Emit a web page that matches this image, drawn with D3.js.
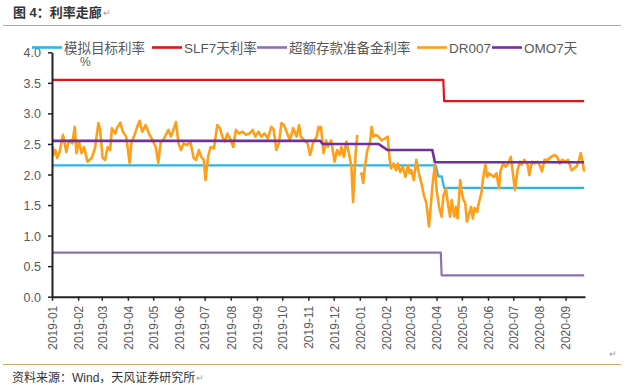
<!DOCTYPE html>
<html><head><meta charset="utf-8">
<script src="https://cdn.jsdelivr.net/npm/d3@7"></script>
<style>
html,body{margin:0;padding:0;background:#fff;}
svg{display:block;}
text{font-family:"Liberation Sans","Noto Sans CJK SC",sans-serif;}
</style></head>
<body><svg id="c" width="639" height="385"></svg>
<script>
const seriesNames = ["模拟目标利率","SLF7天利率","超额存款准备金利率","DR007","OMO7天"];
const seriesColors = ["#2CB5E8","#E3141B","#8B72B0","#FF9E18","#7030A0"];
const yTicks = [0,0.5,1,1.5,2,2.5,3,3.5,4];

const targetDates = ["2019-01-02","2020-03-31","2020-04-03","2020-04-07","2020-04-10","2020-09-23"];
const targetValues = [2.15,2.15,1.97,1.97,1.78,1.78];
const slfDates = ["2019-01-02","2020-04-09","2020-04-10","2020-09-23"];
const slfValues = [3.55,3.55,3.20,3.20];
const excessDates = ["2019-01-02","2020-04-06","2020-04-07","2020-09-23"];
const excessValues = [0.72,0.72,0.35,0.35];
const omoDates = ["2019-01-02","2019-11-15","2019-11-18","2020-01-23","2020-02-03","2020-03-27","2020-03-30","2020-09-23"];
const omoValues = [2.55,2.55,2.50,2.50,2.40,2.40,2.20,2.20];

const dr007Dates = [
"2019-01-02","2019-01-03","2019-01-05","2019-01-07","2019-01-10","2019-01-14","2019-01-18","2019-01-20","2019-01-23","2019-01-25","2019-01-28","2019-01-30",
"2019-02-02","2019-02-05","2019-02-08","2019-02-12","2019-02-17","2019-02-21","2019-02-25","2019-02-27",
"2019-03-02","2019-03-05","2019-03-08","2019-03-11","2019-03-13","2019-03-17","2019-03-19","2019-03-23","2019-03-26","2019-03-30",
"2019-04-03","2019-04-05","2019-04-09","2019-04-12","2019-04-15","2019-04-18","2019-04-22","2019-04-26",
"2019-05-01","2019-05-04","2019-05-07","2019-05-10","2019-05-13","2019-05-16","2019-05-19","2019-05-22","2019-05-25","2019-05-28","2019-05-31",
"2019-06-03","2019-06-06","2019-06-10","2019-06-14","2019-06-18","2019-06-21","2019-06-24","2019-06-27","2019-06-30",
"2019-07-02","2019-07-05","2019-07-08","2019-07-12","2019-07-16","2019-07-19","2019-07-22","2019-07-25","2019-07-28","2019-07-31",
"2019-08-04","2019-08-07","2019-08-11","2019-08-15","2019-08-19","2019-08-23","2019-08-27","2019-08-30",
"2019-09-03","2019-09-06","2019-09-10","2019-09-14","2019-09-18","2019-09-21","2019-09-24","2019-09-27","2019-09-30",
"2019-10-03","2019-10-07","2019-10-10","2019-10-14","2019-10-18","2019-10-21","2019-10-23","2019-10-27","2019-10-31",
"2019-11-03","2019-11-07","2019-11-11","2019-11-13","2019-11-14","2019-11-16","2019-11-19","2019-11-22","2019-11-24","2019-11-28",
"2019-12-02","2019-12-05","2019-12-08","2019-12-10","2019-12-13","2019-12-16","2019-12-19","2019-12-22","2019-12-24","2019-12-27","2019-12-29","2019-12-31",
"2020-01-02","2020-01-03","2020-01-05","2020-01-07","2020-01-10","2020-01-13","2020-01-15","2020-01-17","2020-01-20","2020-01-23","2020-01-27","2020-01-31",
"2020-02-03","2020-02-05","2020-02-07","2020-02-10","2020-02-13","2020-02-15","2020-02-18","2020-02-21","2020-02-24","2020-02-27","2020-02-29",
"2020-03-02","2020-03-05","2020-03-08","2020-03-11","2020-03-14","2020-03-17","2020-03-20","2020-03-23","2020-03-25","2020-03-27","2020-03-30",
"2020-04-01","2020-04-04","2020-04-07","2020-04-09","2020-04-12","2020-04-15","2020-04-17","2020-04-19","2020-04-22","2020-04-24","2020-04-26","2020-04-29",
"2020-05-01","2020-05-03","2020-05-05","2020-05-07","2020-05-10","2020-05-12","2020-05-14","2020-05-16","2020-05-19","2020-05-21","2020-05-24","2020-05-27","2020-05-29","2020-05-31",
"2020-06-02","2020-06-05","2020-06-08","2020-06-11","2020-06-14","2020-06-16","2020-06-19","2020-06-22","2020-06-25","2020-06-28",
"2020-07-01","2020-07-03","2020-07-06","2020-07-09","2020-07-11","2020-07-14","2020-07-18","2020-07-20","2020-07-23","2020-07-26","2020-07-30",
"2020-08-02","2020-08-04","2020-08-07","2020-08-11","2020-08-15","2020-08-19","2020-08-22","2020-08-25","2020-08-28","2020-08-31",
"2020-09-04","2020-09-08","2020-09-11","2020-09-14","2020-09-17","2020-09-19","2020-09-21","2020-09-23"];
const dr007Values = [
2.45,2.32,2.40,2.27,2.37,2.65,2.37,2.51,2.56,2.51,2.78,2.35,
2.54,2.35,2.45,2.21,2.27,2.43,2.84,2.73,
2.27,2.24,2.45,2.40,2.76,2.67,2.76,2.85,2.70,2.62,
2.19,2.51,2.65,2.78,2.88,2.70,2.81,2.67,
2.54,2.45,2.19,2.54,2.56,2.65,2.73,2.62,2.73,2.86,2.51,
2.40,2.51,2.48,2.54,2.27,2.24,2.40,2.29,2.24,
1.91,2.29,2.45,2.43,2.81,2.76,2.62,2.54,2.67,2.59,
2.45,2.73,2.67,2.70,2.65,2.67,2.73,2.62,
2.70,2.62,2.67,2.59,2.78,2.73,2.40,2.51,2.84,
2.81,2.67,2.56,2.76,2.62,2.81,2.62,2.56,2.51,
2.32,2.54,2.62,2.78,2.73,2.78,2.35,2.56,2.45,2.56,
2.21,2.40,2.32,2.45,2.29,2.54,2.35,2.13,1.55,2.35,2.65,null,
1.99,2.02,1.86,2.13,2.40,2.51,2.78,2.62,2.65,2.62,2.56,2.59,
2.62,2.29,2.10,2.18,2.07,2.18,2.04,2.13,1.96,2.15,2.02,
2.07,1.91,2.24,2.02,1.86,1.66,1.53,1.15,1.47,1.80,2.16,
1.75,1.47,1.31,1.64,1.77,1.47,1.31,1.58,1.31,1.47,1.28,1.91,
1.69,1.58,1.53,1.23,1.37,1.47,1.28,1.45,1.39,1.53,1.69,2.02,2.16,1.96,
2.02,1.99,1.96,2.02,1.77,2.07,2.18,2.13,2.18,2.29,
1.96,1.75,2.07,2.21,2.16,2.24,2.16,1.99,2.21,2.18,2.21,
2.13,2.05,2.24,2.24,2.29,2.32,2.29,2.18,2.24,2.21,
2.24,2.07,2.10,2.13,2.24,2.35,2.21,2.05];

const parse = d3.timeParse("%Y-%m-%d");
const zip = (ds, vs) => ds.map((d,i) => ({date: parse(d), value: vs[i]}));
const series = [
  {data: zip(targetDates, targetValues), w: 2.2},
  {data: zip(slfDates, slfValues), w: 2.2},
  {data: zip(excessDates, excessValues), w: 2.2},
  {data: zip(dr007Dates, dr007Values), w: 2.6},
  {data: zip(omoDates, omoValues), w: 2.6}
];

const svg = d3.select("#c");
const x = d3.scaleTime().domain([parse("2019-01-01"), parse("2020-09-24")]).range([52, 585]);
const y = d3.scaleLinear().domain([0, 4]).range([296.7, 52.3]);

function addReturnMark(t, yPos) {
  const bb = t.node().getBBox();
  svg.append("text").attr("x", bb.x + bb.width + 1).attr("y", yPos).attr("font-size", 9).attr("fill", "#999").text("↵");
}

// title
const title = svg.append("text").attr("x", 13).attr("y", 17).attr("font-size", 13).attr("font-weight", "bold").attr("fill", "#333")
  .text("图 4：利率走廊");
addReturnMark(title, 16);
svg.append("line").attr("x1", 3).attr("x2", 621).attr("y1", 25.5).attr("y2", 25.5).attr("stroke", "#D2A36B").attr("stroke-width", 1);

// lines
const line = d3.line().defined(d => d.value != null).x(d => x(d.date)).y(d => y(d.value));
series.forEach((s, i) => {
  svg.append("path").datum(s.data).attr("d", line).attr("fill", "none")
    .attr("stroke", seriesColors[i]).attr("stroke-width", s.w).attr("stroke-linejoin", "round");
});

// axes
const yAxis = svg.append("g").attr("transform", "translate(52,0)")
  .call(d3.axisLeft(y).tickValues(yTicks).tickFormat(d3.format(".1f")).tickSize(4).tickSizeOuter(0));
const xAxis = svg.append("g").attr("transform", "translate(0,296.7)")
  .call(d3.axisBottom(x).ticks(d3.timeMonth.every(1)).tickFormat(d3.timeFormat("%Y-%m")).tickSize(4).tickSizeOuter(0));
[yAxis, xAxis].forEach(g => {
  g.select(".domain").attr("stroke", "#222").attr("stroke-width", 2);
  g.selectAll(".tick line").attr("stroke", "#222").attr("stroke-width", 1.5);
  g.selectAll("text").attr("fill", "#595959").attr("font-size", 12.5)
    .attr("font-family", "'Liberation Sans', sans-serif");
});
yAxis.selectAll("text").attr("x", -11).attr("dy", "0.36em");
xAxis.selectAll("text").attr("transform", "rotate(-90)").attr("text-anchor", "end")
  .attr("x", -9).attr("y", 0).attr("dy", "0.36em").attr("font-size", 12);

// % label
svg.append("text").attr("x", 80).attr("y", 66).attr("font-size", 12).attr("fill", "#595959").text("%");

// legend
const legendX = [32, 152, 257, 417, 492];
const lg = svg.append("g");
seriesNames.forEach((n, i) => {
  lg.append("line").attr("x1", legendX[i]).attr("x2", legendX[i] + 30).attr("y1", 47.5).attr("y2", 47.5)
    .attr("stroke", seriesColors[i]).attr("stroke-width", 2.6);
  lg.append("text").attr("x", legendX[i] + 32).attr("y", 52.5).attr("font-size", 13.5).attr("fill", "#595959").text(n);
});

// footer
svg.append("line").attr("x1", 3).attr("x2", 621).attr("y1", 364.5).attr("y2", 364.5).attr("stroke", "#D2A36B").attr("stroke-width", 1);
svg.append("text").attr("x", 609).attr("y", 357).attr("font-size", 9).attr("fill", "#999").text("↵");
const footer = svg.append("text").attr("x", 12).attr("y", 382).attr("font-size", 12).attr("fill", "#333")
  .text("资料来源：Wind，天风证券研究所");
addReturnMark(footer, 381);
</script></body></html>
